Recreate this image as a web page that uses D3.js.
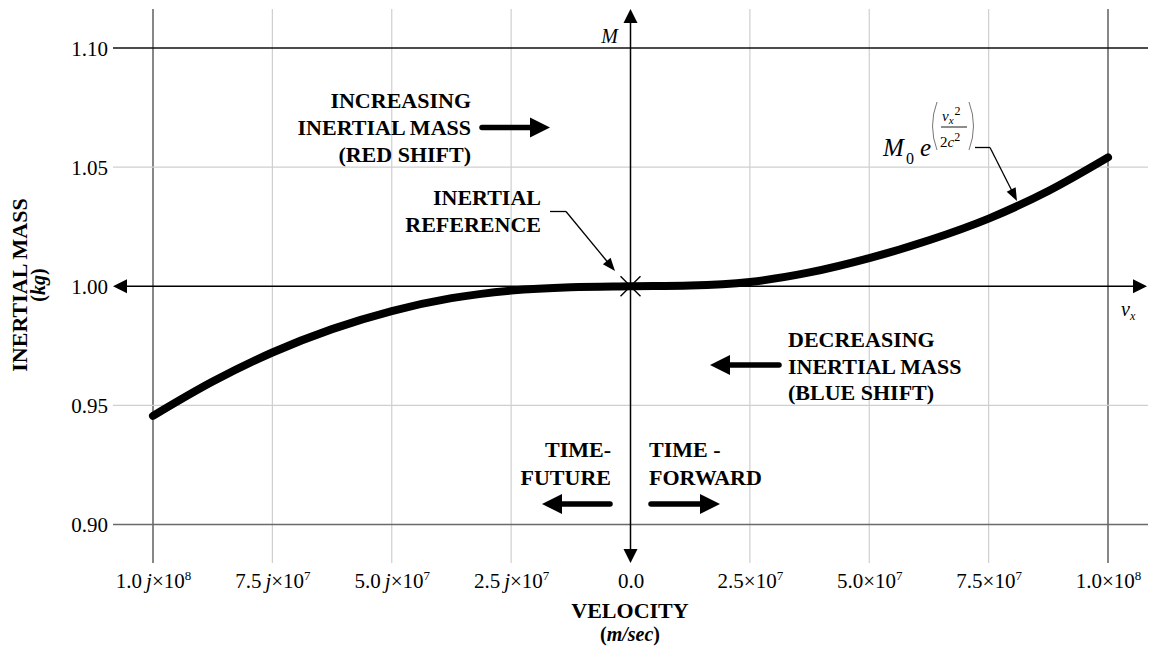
<!DOCTYPE html>
<html>
<head>
<meta charset="utf-8">
<script src="https://cdn.jsdelivr.net/npm/d3@7"></script>
<style>
  body { margin: 0; background: #fff; }
  svg text { font-family: "Liberation Serif", "DejaVu Serif", "Tinos", "Times New Roman", serif; fill: #000; }
</style>
</head>
<body>
<div id="chart"></div>
<script>
// tick values and labels
const xTicks = [-1e8, -7.5e7, -5e7, -2.5e7, 0, 2.5e7, 5e7, 7.5e7, 1e8];
const xTickMantissa = ["1.0", "7.5", "5.0", "2.5", "0.0", "2.5", "5.0", "7.5", "1.0"];
const xTickExponent = ["8", "7", "7", "7", "", "7", "7", "7", "8"];
const xTickImaginary = [true, true, true, true, false, false, false, false, false];
const yTicks = [0.90, 0.95, 1.00, 1.05, 1.10];

// curve (velocity in m/sec, imaginary on the left)
const velocity = [-1e8, -8.75e7, -7.5e7, -6.25e7, -5e7, -3.75e7, -2.5e7, -1.25e7, 0,
                  1.25e7, 2.5e7, 3.75e7, 5e7, 6.25e7, 7.5e7, 8.75e7, 1e8];
const mass = [0.9456, 0.9600, 0.9722, 0.9820, 0.9896, 0.9950, 0.9982, 0.9996, 1.0000,
              1.0003, 1.0018, 1.0058, 1.0118, 1.0193, 1.0284, 1.0400, 1.0541];

// annotation texts
const redShiftLines = ["INCREASING", "INERTIAL MASS", "(RED SHIFT)"];
const blueShiftLines = ["DECREASING", "INERTIAL MASS", "(BLUE SHIFT)"];
const referenceLines = ["INERTIAL", "REFERENCE"];
const futureLines = ["TIME-", "FUTURE"];
const forwardLines = ["TIME -", "FORWARD"];

const W = 1149, H = 647;
const svg = d3.select("#chart").append("svg")
    .attr("width", W)
    .attr("height", H);

const x = d3.scaleLinear().domain([-1e8, 1e8]).range([153, 1108]);
const y = d3.scaleLinear().domain([0.9, 1.1]).range([524.5, 48]);

const gTop = 9, gBottom = 563, gLeft = 113, gRight = 1148;

// grid
let grid = svg.append("g");
grid.selectAll(".vgrid")
    .data(xTicks.filter(d => d !== 0))
    .enter().append("line")
    .attr("x1", d => x(d)).attr("x2", d => x(d))
    .attr("y1", gTop).attr("y2", gBottom)
    .attr("stroke", (d, i, a) => (i === 0 || i === a.length - 1) ? "#6a6a6a" : "#cfcfcf")
    .attr("stroke-width", (d, i, a) => (i === 0 || i === a.length - 1) ? 1.6 : 1.2);

grid.selectAll(".hgrid")
    .data(yTicks.filter(d => d !== 1))
    .enter().append("line")
    .attr("x1", gLeft).attr("x2", gRight)
    .attr("y1", d => y(d)).attr("y2", d => y(d))
    .attr("stroke", d => d === 1.10 ? "#111" : d === 0.90 ? "#6a6a6a" : "#cfcfcf")
    .attr("stroke-width", d => d === 1.10 ? 1.3 : d === 0.90 ? 1.6 : 1.2);

// arrow helper: shaft from (x1,y1), filled head with tip at (x2,y2)
function arrow(g, x1, y1, x2, y2, len, half, sw, cap) {
  let dx = x2 - x1, dy = y2 - y1, L = Math.hypot(dx, dy);
  let ux = dx / L, uy = dy / L;
  let bx = x2 - ux * len, by = y2 - uy * len;
  g.append("line")
      .attr("x1", x1).attr("y1", y1)
      .attr("x2", bx + ux).attr("y2", by + uy)
      .attr("stroke", "#000").attr("stroke-width", sw)
      .attr("stroke-linecap", cap || "butt");
  g.append("path")
      .attr("d", `M${x2},${y2}L${bx - uy * half},${by + ux * half}L${bx + uy * half},${by - ux * half}Z`)
      .attr("fill", "#000");
}

// main axes through the origin
let axes = svg.append("g");
arrow(axes, x(0), y(1), x(0), gTop, 14, 7, 1.5);
arrow(axes, x(0), y(1), x(0), gBottom, 14, 7, 1.5);
arrow(axes, x(0), y(1), gLeft, y(1), 14, 7, 1.5);
arrow(axes, x(0), y(1), gRight - 1, y(1), 14, 7, 1.5);

// y tick labels
let yAxis = d3.axisLeft(y).tickValues(yTicks).tickFormat(d3.format(".2f"))
    .tickSize(0).tickPadding(45);
let gy = svg.append("g")
    .attr("transform", `translate(${x(-1e8)},0)`)
    .call(yAxis)
    .attr("font-family", null);
gy.select(".domain").remove();
gy.selectAll("text")
    .attr("font-size", 21)
    .attr("dy", "0.34em");

// x tick labels
let xAxis = d3.axisBottom(x).tickValues(xTicks).tickFormat("")
    .tickSize(0).tickPadding(10);
let gx = svg.append("g")
    .attr("transform", `translate(0,${gBottom})`)
    .call(xAxis)
    .attr("font-family", null);
gx.select(".domain").remove();
gx.selectAll("text")
    .attr("font-size", 21)
    .each(function(d, i) {
      let t = d3.select(this);
      t.append("tspan").text(xTickMantissa[i]);
      if (xTickImaginary[i]) {
        t.append("tspan").attr("dx", 4).attr("font-style", "italic").text("j");
      }
      if (xTickExponent[i]) {
        t.append("tspan").text("\u00d710");
        t.append("tspan").attr("dy", -8).attr("font-size", 13).text(xTickExponent[i]);
      }
    });

// the curve
let line = d3.line()
    .x((d, i) => x(velocity[i]))
    .y(d => y(d))
    .curve(d3.curveMonotoneX);
svg.append("path")
    .datum(mass)
    .attr("d", line)
    .attr("fill", "none")
    .attr("stroke", "#000")
    .attr("stroke-width", 8)
    .attr("stroke-linecap", "round");

// reference cross at origin
let cx = x(0), cy = y(1);
svg.append("path")
    .attr("d", `M${cx - 10},${cy - 10}L${cx + 10},${cy + 10}M${cx - 10},${cy + 10}L${cx + 10},${cy - 10}`)
    .attr("stroke", "#000").attr("stroke-width", 1.4);

// multi-line bold label helper
function block(lines, xPos, y0, step, anchor) {
  let t = svg.append("text")
      .attr("font-weight", "bold")
      .attr("font-size", 22)
      .attr("text-anchor", anchor);
  lines.forEach((s, i) => {
    t.append("tspan").attr("x", xPos).attr("y", y0 + i * step).text(s);
  });
}

let notes = svg.append("g");
block(redShiftLines, 471, 108, 26.8, "end");
arrow(notes, 482, 127.5, 550, 127.5, 20, 10, 5.5, "round");

block(blueShiftLines, 788, 347, 26.6, "start");
arrow(notes, 779, 365, 710, 365, 20, 10, 5.5, "round");

block(futureLines, 611, 457, 28, "end");
arrow(notes, 610, 504, 542, 504, 20, 10, 5.5, "round");

block(forwardLines, 649, 457, 28, "start");
arrow(notes, 651, 504, 720, 504, 20, 10, 5.5, "round");

block(referenceLines, 541, 205, 26.7, "end");
notes.append("path")
    .attr("d", "M550,211.5L566,211.5")
    .attr("stroke", "#000").attr("stroke-width", 1.3);
arrow(notes, 566, 211.5, 615, 271, 13, 5, 1.3);

// axis names on the arrows
svg.append("text")
    .attr("x", 618).attr("y", 43)
    .attr("text-anchor", "end")
    .attr("font-style", "italic")
    .attr("font-size", 20)
    .text("M");

let vx = svg.append("text")
    .attr("x", 1121).attr("y", 316)
    .attr("font-style", "italic")
    .attr("font-size", 20);
vx.append("tspan").text("v");
vx.append("tspan").attr("dy", 4).attr("font-size", 12).text("x");

// formula annotation
let f = svg.append("g");
f.append("text").attr("x", 883).attr("y", 156)
    .attr("font-style", "italic").attr("font-size", 25).text("M");
f.append("text").attr("x", 906).attr("y", 164)
    .attr("font-size", 16).text("0");
f.append("text").attr("x", 920).attr("y", 156)
    .attr("font-style", "italic").attr("font-size", 25).text("e");
f.append("path")
    .attr("d", "M937,102Q928,126 937,150M969,102Q978,126 969,150")
    .attr("fill", "none").attr("stroke", "#777").attr("stroke-width", 1);
let num = f.append("text").attr("x", 942).attr("y", 121).attr("font-size", 15);
num.append("tspan").attr("font-style", "italic").text("v");
num.append("tspan").attr("font-style", "italic").attr("dy", 3).attr("font-size", 11).text("x");
num.append("tspan").attr("dy", -9).attr("dx", 1).attr("font-size", 12).text("2");
f.append("line")
    .attr("x1", 941).attr("x2", 967).attr("y1", 127).attr("y2", 127)
    .attr("stroke", "#000").attr("stroke-width", 0.9);
let den = f.append("text").attr("x", 940).attr("y", 147).attr("font-size", 15);
den.append("tspan").text("2");
den.append("tspan").attr("font-style", "italic").text("c");
den.append("tspan").attr("dy", -6).attr("font-size", 12).text("2");
f.append("path")
    .attr("d", "M975,147.5L990,147.5")
    .attr("stroke", "#000").attr("stroke-width", 1.3);
arrow(f, 990, 147.5, 1017, 201, 13, 5, 1.3);

// axis titles
svg.append("text")
    .attr("x", 630).attr("y", 618)
    .attr("text-anchor", "middle")
    .attr("font-weight", "bold").attr("font-size", 22)
    .text("VELOCITY");
let unitX = svg.append("text")
    .attr("x", 630).attr("y", 641)
    .attr("text-anchor", "middle")
    .attr("font-weight", "bold").attr("font-size", 20);
unitX.append("tspan").text("(");
unitX.append("tspan").attr("font-style", "italic").text("m/sec");
unitX.append("tspan").text(")");

svg.append("text")
    .attr("transform", "translate(27,285) rotate(-90)")
    .attr("text-anchor", "middle")
    .attr("font-weight", "bold").attr("font-size", 22)
    .text("INERTIAL MASS");
let unitY = svg.append("text")
    .attr("transform", "translate(45,285) rotate(-90)")
    .attr("text-anchor", "middle")
    .attr("font-weight", "bold").attr("font-size", 20);
unitY.append("tspan").text("(");
unitY.append("tspan").attr("font-style", "italic").text("kg");
unitY.append("tspan").text(")");
</script>
</body>
</html>
